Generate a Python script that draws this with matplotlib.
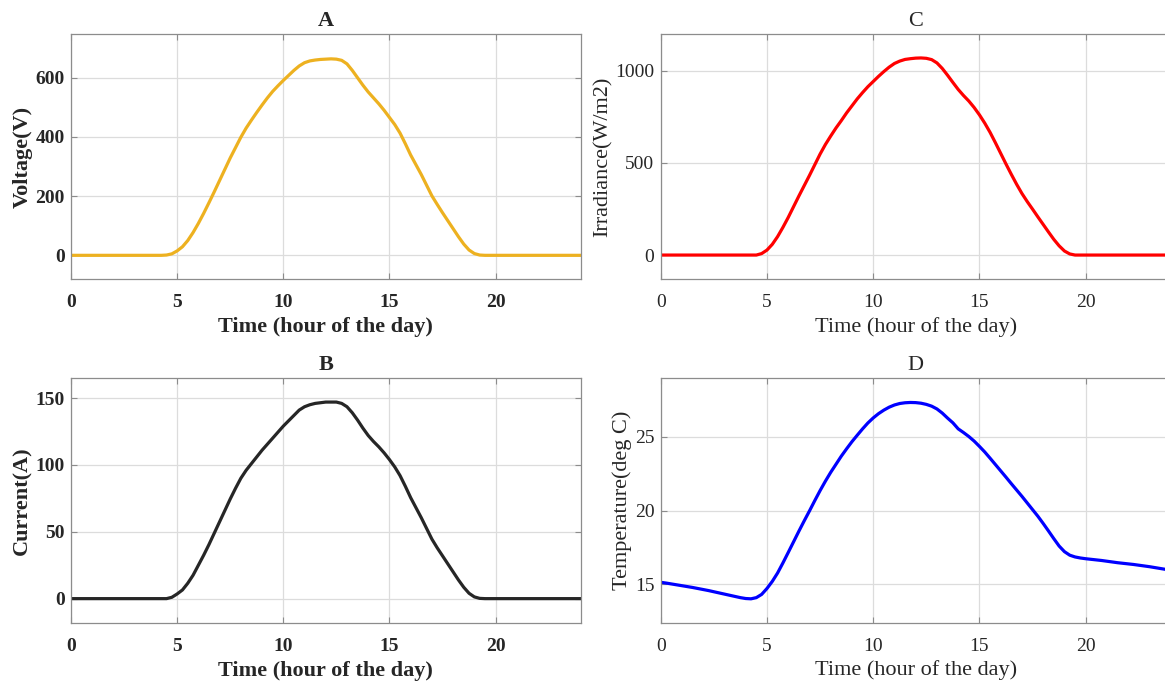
import numpy as np
import matplotlib
matplotlib.use("Agg")
import matplotlib.pyplot as plt

plt.rcParams['font.family'] = ['Liberation Serif', 'DejaVu Serif']

# time axis (hour of the day), quarter-hour samples
hours = np.arange(0, 24.25, 0.25)

# PV voltage (V)
voltage = ([0] * 18 +
           [1, 5, 15, 29, 50, 77, 108, 142, 178, 215,
            253, 291, 329, 364, 399, 430, 457, 483, 508, 532,
            554, 573, 591, 608, 625, 640, 651, 657, 660, 662,
            663, 664, 663, 659, 647, 625, 600, 575, 552, 532,
            512, 490, 466, 442, 413, 377, 339, 306, 273, 237,
            201, 172, 144, 117, 90, 63, 38, 18, 6, 1, 0] +
           [0] * 18)

# PV current (A), panel B
current = ([0] * 18 +
           [0, 1, 3.5, 6.5, 11.5, 17.5, 25, 32.5, 40.5, 49,
            57.5, 66, 74.5, 82.5, 90, 96, 101, 106, 111, 115.5,
            120, 124.5, 129, 133, 137, 141, 143.5, 145, 146, 146.5,
            147, 147, 147, 146, 143.5, 139, 133.5, 127.5, 122, 117.5,
            113.5, 109, 104, 98.5, 92, 84, 75.5, 68, 60.5, 52.5,
            44.5, 38, 32, 26, 20, 14, 8.5, 4, 1.3, 0.2, 0] +
           [0] * 18)

# irradiance (W/m2), panel C
irradiance = ([0] * 18 +
              [0, 8, 27, 58, 100, 150, 204, 262, 320, 376,
               432, 490, 548, 600, 646, 690, 730, 772, 810, 848,
               882, 914, 942, 970, 996, 1020, 1040, 1053, 1062, 1066,
               1069, 1070, 1068, 1061, 1043, 1013, 976, 937, 899, 866,
               836, 801, 761, 716, 666, 610, 552, 494, 438, 384,
               334, 290, 249, 207, 166, 125, 85, 50, 22, 6, 0] +
              [0] * 18)

# temperature (deg C), panel D
temperature = [15.14, 15.09, 15.03, 14.97, 14.91, 14.85, 14.79, 14.72, 14.65, 14.58,
               14.5, 14.42, 14.34, 14.26, 14.18, 14.1, 14.04, 14.02, 14.1, 14.32,
               14.72, 15.2, 15.77, 16.45, 17.16, 17.88, 18.6, 19.3, 19.98, 20.68,
               21.36, 22.0, 22.6, 23.15, 23.7, 24.2, 24.68, 25.12, 25.55, 25.95,
               26.29, 26.58, 26.82, 27.02, 27.17, 27.27, 27.32, 27.34, 27.33, 27.29,
               27.21, 27.09, 26.9, 26.62, 26.28, 25.96, 25.55, 25.3, 25.03, 24.72,
               24.36, 23.98, 23.56, 23.13, 22.7, 22.27, 21.83, 21.4, 20.97, 20.52,
               20.07, 19.62, 19.13, 18.62, 18.1, 17.6, 17.22, 16.98, 16.86, 16.79,
               16.74, 16.7, 16.66, 16.62, 16.57, 16.52, 16.47, 16.43, 16.39, 16.35,
               16.3, 16.25, 16.2, 16.14, 16.08, 16.02, 15.97]

xticks = [0, 5, 10, 15, 20]

W, H = 1165, 685
fig = plt.figure(figsize=(W / 100, H / 100), dpi=100)


def make_ax(left, top, right, bottom):
    return fig.add_axes([left / W, 1 - bottom / H, (right - left) / W, (bottom - top) / H])


panels = [
    # (box px, y, color, title, ylabel, ylim, yticks, weight)
    ((71, 34, 580.5, 279), voltage, '#EDB120', 'A', 'Voltage(V)', (-80, 748), [0, 200, 400, 600], 'bold'),
    ((71, 378, 580.5, 622.7), current, '#262626', 'B', 'Current(A)', (-18, 165), [0, 50, 100, 150], 'bold'),
    ((660.7, 34, 1170.7, 279), irradiance, '#FF0000', 'C', 'Irradiance(W/m2)', (-130, 1200), [0, 500, 1000], 'normal'),
    ((660.7, 378, 1170.7, 622.7), temperature, '#0000FF', 'D', 'Temperature(deg C)', (12.4, 29.0), [15, 20, 25], 'normal'),
]

for box, y, color, title, ylabel, ylim, yticks, weight in panels:
    ax = make_ax(*box)
    ax.plot(hours, y, color=color, lw=2.3, solid_joinstyle='round')
    ax.set_xlim(0, 24)
    ax.set_ylim(*ylim)
    ax.set_xticks(xticks)
    ax.set_yticks(yticks)
    ax.grid(True, color='#dcdcdc', lw=0.9)
    ax.set_axisbelow(True)
    for s in ax.spines.values():
        s.set_color('#8c8c8c')
        s.set_linewidth(0.9)
    ax.tick_params(direction='in', length=4, width=0.8, color='#8c8c8c',
                   top=True, right=True, labelsize=14, labelcolor='#262626')
    ax.tick_params(axis='x', pad=11)
    ax.tick_params(axis='y', pad=4.5)
    for lab in ax.get_xticklabels() + ax.get_yticklabels():
        lab.set_fontweight(weight)
    ax.set_title(title, fontsize=16, fontweight=weight, color='#262626', pad=6)
    ax.set_xlabel('Time (hour of the day)', fontsize=16, fontweight=weight, color='#262626', labelpad=4)
    ax.set_ylabel(ylabel, fontsize=16, fontweight=weight, color='#262626', labelpad=2)

fig.savefig('out.png', dpi=100)
